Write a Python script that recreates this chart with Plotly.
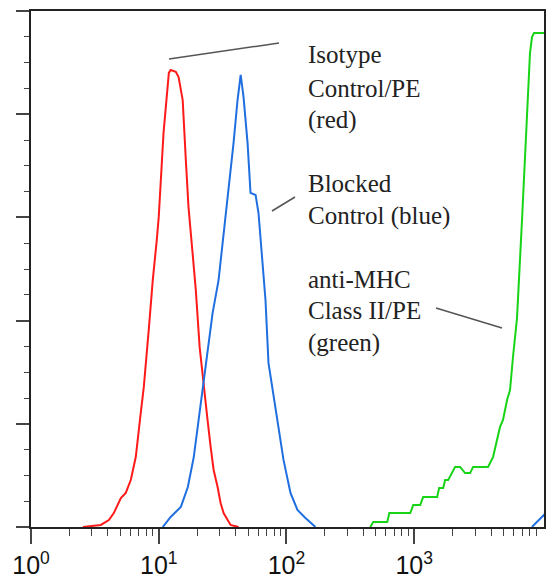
import plotly.graph_objects as go

# ---- data (fluorescence intensity, event counts) ----
red_x = [2.55, 3.52, 4.07, 4.45, 5.05, 5.52, 6.04, 6.61, 7.23, 7.64, 8.35, 8.98, 9.65,
         10.0, 10.9, 12.0, 12.4, 13.6, 14.3, 15.4, 16.3, 17.1, 18.4, 19.5, 20.9, 22.5,
         24.1, 25.5, 26.9, 28.9, 30.5, 32.2, 34.6, 36.5, 42.2]
red_y = [0, 0.8, 2.7, 5.4, 11.2, 13.2, 18.2, 27.1, 44.2, 54.3, 76.4, 95.7, 111.2,
         120.2, 152.7, 176.0, 177.1, 176.4, 174.4, 165.5, 142.2, 124.0, 106.2, 91.9, 69.8, 54.3,
         41.5, 31.0, 22.1, 15.5, 9.3, 5.4, 2.7, 0.8, 0]

blue_x = [10.75, 12.4, 14.9, 16.9, 18.8, 20.5, 22.1, 24.1, 26.4, 29.4, 31.6, 35.2,
          38.5, 41.4, 43.8, 46.1, 49.6, 52.3, 57.3, 60.4, 65.0, 68.5, 72.3, 85.1, 94.8,
          107.5, 121.9, 140.7, 159.7, 168.6, None, 8350, 10500]
blue_y = [0, 3.9, 7.8, 15.5, 27.1, 41.5, 53.1, 69.8, 82.9, 95.7, 110.1, 129.5,
          148.8, 165.5, 175.2, 166.7, 148.8, 129.5, 128.7, 121.7, 103.5, 88.0, 63.6, 41.5, 26.0,
          13.2, 6.6, 3.5, 0.8, 0, None, 0, 5.0]

green_x = [453, 478, 615, 638, 931, 982, 1114, 1175, 1513, 1567, 1686, 1746, 1844,
           1982, 2091, 2287, 2501, 2739, 2891, 3784, 4140, 4697, 4955, 5330, 5623, 5934,
           6263, 6380, 6980, 7640, 8060, 8360, 8670, 10500]
green_y = [0, 1.9, 1.9, 5.4, 5.4, 8.5, 8.5, 11.6, 11.6, 15.1, 15.1, 18.2, 18.2,
           21.3, 23.3, 23.3, 20.9, 20.9, 23.3, 23.3, 27.1, 38.8, 41.5, 49.2, 53.1, 65.9,
           77.5, 81.0, 119.0, 157.8, 183.7, 189.9, 191.5, 191.5]

major_ticks = [1, 10, 100, 1000]
major_text = ["10<sup>0</sup>", "10<sup>1</sup>", "10<sup>2</sup>", "10<sup>3</sup>"]
minor_ticks = [m * d for d in [1, 10, 100, 1000] for m in range(2, 10)]

label_lines = [
    ("Isotype", 54), ("Control/PE", 88), ("(red)", 120),
    ("Blocked", 183), ("Control (blue)", 216),
    ("anti-MHC", 279), ("Class II/PE", 311), ("(green)", 343),
]
leaders = [((169, 59), (279, 43)), ((272, 211), (295, 197)), ((436, 308), (502, 328))]

# ---- figure ----
W, H = 546, 587
L, R, T, B = 31, 2, 11, 60
pw, ph = W - L - R, H - T - B

def px(x):
    return (x - L) / pw

def py(y):
    return (H - B - y) / ph

fig = go.Figure()
fig.add_trace(go.Scatter(x=red_x, y=red_y, mode="lines", line=dict(color="#ff1a1a", width=2)))
fig.add_trace(go.Scatter(x=blue_x, y=blue_y, mode="lines", connectgaps=False,
                         line=dict(color="#1f6fe0", width=2)))
fig.add_trace(go.Scatter(x=green_x, y=green_y, mode="lines", line=dict(color="#17d417", width=2)))

for txt, yc in label_lines:
    fig.add_annotation(x=px(306), y=py(yc), xref="paper", yref="paper", text=txt,
                       showarrow=False, xanchor="left", yanchor="middle",
                       font=dict(family="Liberation Serif", size=25, color="#222"))

for (x0, y0), (x1, y1) in leaders:
    fig.add_shape(type="line", xref="paper", yref="paper",
                  x0=px(x0), y0=py(y0), x1=px(x1), y1=py(y1),
                  line=dict(color="#555", width=1.5))

fig.update_layout(
    width=W, height=H, margin=dict(l=L, r=R, t=T, b=B, autoexpand=False),
    paper_bgcolor="white", plot_bgcolor="white", showlegend=False,
    xaxis=dict(type="log", range=[0, 4.016], showgrid=False, zeroline=False,
               automargin=False,
               showline=True, linecolor="#222", linewidth=2, mirror=True,
               tickmode="array", tickvals=major_ticks, ticktext=major_text,
               ticks="outside", ticklen=15, tickwidth=1.5, tickcolor="#444",
               tickfont=dict(family="Liberation Sans", size=25, color="#111"),
               minor=dict(tickmode="array", tickvals=minor_ticks, ticks="outside",
                          ticklen=7, tickwidth=1, tickcolor="#444", showgrid=False)),
    yaxis=dict(range=[0, 200], showgrid=False, zeroline=False, showticklabels=False,
               automargin=False,
               showline=True, linecolor="#222", linewidth=2, mirror=True,
               tickmode="linear", tick0=0, dtick=40,
               ticks="outside", ticklen=13, tickwidth=1.5, tickcolor="#444",
               minor=dict(dtick=10, ticks="outside", ticklen=5, tickwidth=1,
                          tickcolor="#444", showgrid=False)),
)

fig.write_html("out.html", config={"displayModeBar": False},
               post_script="document.body.style.margin='0';document.body.style.overflow='hidden';")
